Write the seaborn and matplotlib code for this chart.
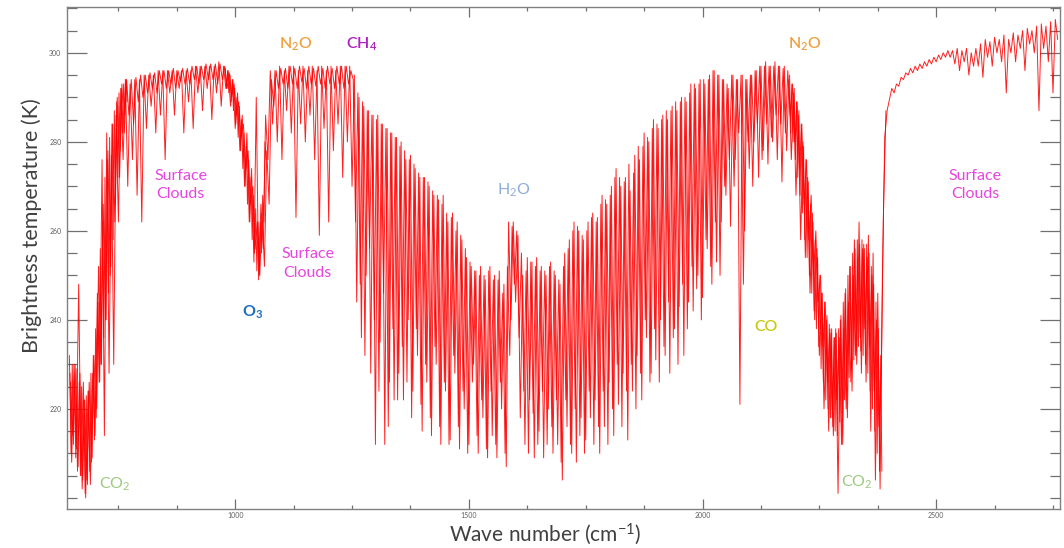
import numpy as np
import matplotlib
matplotlib.use("Agg")
import matplotlib.pyplot as plt
from matplotlib.ticker import MultipleLocator
import seaborn as sns

# brightness temperature (K), one value every 5 cm-1 from 645 cm-1
bt_values = [
    232, 208, 230, 211, 248, 205, 226, 200, 224, 203, 228, 214, 246, 226, 276, 214, 282, 228, 277, 230,
    286, 262, 292, 276, 294, 270, 293, 276, 294, 268, 294, 262, 295, 283, 295, 288, 295, 282, 296, 286,
    296, 276, 296, 291, 296, 286, 296, 292, 296, 282, 296, 289, 296, 283, 297, 291, 297, 287, 297, 292,
    297, 285, 297, 291, 298, 288, 297, 292, 296, 288, 294, 283, 291, 278, 286, 270, 282, 262, 274, 253,
    290, 249, 266, 256, 286, 276, 296, 284, 296, 280, 297, 276, 296, 287, 297, 282, 297, 263, 296, 284,
    297, 280, 296, 286, 297, 276, 296, 259, 297, 283, 296, 262, 297, 278, 296, 284, 297, 272, 297, 280,
    297, 270, 295, 244, 290, 236, 288, 250, 287, 228, 286, 212, 286, 235, 284, 212, 283, 226, 282, 222,
    281, 228, 280, 222, 276, 240, 277, 224, 274, 232, 272, 215, 272, 226, 270, 214, 268, 230, 267, 212,
    268, 224, 262, 213, 264, 228, 262, 211, 258, 220, 254, 212, 252, 230, 251, 210, 252, 218, 249, 209,
    252, 214, 250, 209, 251, 220, 248, 207, 262, 240, 262, 244, 259, 218, 250, 212, 254, 222, 253, 209,
    254, 215, 252, 209, 250, 220, 253, 210, 250, 212, 248, 204, 255, 216, 258, 210, 262, 208, 260, 218,
    258, 213, 262, 218, 264, 222, 263, 210, 268, 216, 266, 226, 270, 214, 274, 221, 270, 228, 272, 213,
    269, 224, 277, 232, 276, 222, 282, 236, 280, 228, 285, 231, 283, 240, 286, 232, 285, 228, 288, 238,
    287, 243, 290, 232, 289, 244, 293, 242, 292, 250, 294, 245, 293, 256, 295, 248, 296, 253, 295, 262,
    294, 268, 292, 261, 295, 276, 294, 221, 295, 260, 294, 274, 295, 280, 296, 272, 297, 278, 298, 275,
    297, 280, 298, 276, 297, 271, 297, 278, 294, 276, 291, 268, 286, 258, 280, 254, 272, 246, 264, 240,
    256, 232, 246, 220, 240, 215, 237, 214, 238, 201, 240, 212, 246, 218, 252, 224, 258, 230, 262, 228,
    257, 226, 259, 215, 255, 204, 246, 202, 250, 281, 287, 289.5, 292, 291, 293, 292.5, 294.5, 294, 295.5, 295,
    296.5, 295.5, 297, 296, 297.5, 296.5, 298, 297, 298.5, 297.5, 299, 298, 299.5, 298.5, 300, 299, 300.5, 299, 300.5, 297.5,
    301, 296, 300.5, 298, 301, 295, 300, 297, 301, 297, 302, 294.5, 303, 299, 302.5, 297, 303.5, 300, 303, 298,
    304, 291, 303, 300, 304.5, 298, 304, 301, 305, 296, 305.5, 302, 305, 300, 306, 287, 306.5, 301, 306, 298,
    307, 291, 307.5, 303,
]
wave_numbers = np.arange(645, 2761, 5)

# the lines in between, every 5 cm-1 from 647.5 cm-1
bt_between = [
    226, 214, 230, 206, 228, 202, 222, 204, 226, 208, 232, 218, 252, 230, 266, 240, 278, 250, 284, 262,
    290, 272, 293, 282, 294, 286, 294, 284, 294.5, 289, 295, 290, 295, 291, 295.5, 292, 295.5, 291, 296, 293,
    296, 292, 296, 293, 296.5, 292, 296, 293.5, 296.5, 293, 296.5, 293, 297, 294, 297, 293, 297, 294, 297.5, 294,
    297.5, 294, 297.5, 293, 297.5, 294, 297, 292, 295.5, 290, 293, 286, 289, 281, 284, 274, 278, 266, 270, 256,
    262, 250, 264, 252, 278, 266, 294, 288, 296, 292, 296.5, 293, 296.5, 292, 297, 293, 296.5, 292, 297, 293.5,
    296.5, 292, 297, 293, 296.5, 292.5, 297, 293, 296.5, 292, 297, 293, 296.5, 292, 297, 293, 297, 292, 297, 293, 296,
    294, 262, 291, 248, 289, 232, 287, 256, 286, 240, 285, 224, 284, 246, 283, 216, 282, 238, 281, 222,
    279, 234, 278, 226, 276, 218, 275, 238, 273, 221, 272, 230, 271, 218, 269, 234, 268, 216, 266, 226,
    264, 212, 263, 232, 260, 216, 259, 224, 256, 210, 253, 226, 251, 214, 250, 222, 250, 211, 251, 224,
    249, 212, 249, 226, 246, 210, 252, 232, 261, 248, 260, 236, 255, 224, 251, 210, 253, 219, 252, 212,
    251, 224, 251, 212, 252, 216, 251, 222, 249, 208, 252, 222, 256, 212, 260, 220, 261, 214, 259, 210,
    260, 224, 263, 212, 262, 216, 266, 224, 267, 212, 268, 220, 272, 230, 272, 216, 271, 224, 275, 230,
    273, 220, 279, 228, 279, 240, 281, 226, 283, 238, 284, 226, 285, 234, 287, 244, 287, 236, 289, 230,
    289, 248, 290, 238, 291, 252, 293, 247, 293, 240, 294, 258, 294, 252, 296, 262, 295, 250, 294, 270,
    293, 276, 295, 270, 294, 282, 295, 248, 294, 280, 295, 270, 296, 284, 297, 276, 297, 284, 297, 281,
    297, 286, 297, 284, 296.5, 282, 296, 286, 293, 280, 289, 274, 284, 266, 276, 258, 268, 250, 260, 244,
    250, 234, 244, 226, 238, 218, 236, 222, 236, 212, 238, 220, 244, 226, 250, 232, 254, 236, 256, 238,
    254, 234, 250, 224, 240, 216, 228, 266, 287,
]
between_wave_numbers = np.arange(647.5, 2395, 5)

# extra lines in the saturated CO2 and O3 bands, every 2.5 cm-1
bt_dense_co2_left = [
    228, 210, 230, 212, 226, 209, 229, 207, 226, 205, 225, 204, 222, 201, 223, 203, 224, 206, 228, 209,
    232, 213, 238, 220, 244, 226, 256, 230, 262, 236, 272, 240, 276, 246, 281, 252, 284, 258, 287, 266,
    289, 272, 291, 278, 292, 282, 293, 286, 294, 289,
]
dense_co2_left_wn = np.arange(646.25, 770, 2.5)

bt_dense_o3 = [
    296.5, 292, 296, 291, 295, 289, 294, 287, 292, 284, 290, 281, 288, 278, 285, 274, 282, 270,
    279, 266, 276, 262, 272, 258, 268, 255, 265, 251, 262, 250, 262, 255, 268, 262, 280, 276,
]
dense_o3_wn = np.arange(978.75, 1067, 2.5)

bt_dense_co2_right = [
    295, 282, 293, 280, 292, 276, 289, 272, 287, 268, 284, 264, 279, 258, 276, 254, 271, 250, 266, 246,
    262, 242, 258, 238, 254, 234, 250, 229, 246, 226, 244, 222, 241, 220, 239, 218, 238, 216, 236, 215,
    237, 214, 238, 217, 241, 219, 244, 222, 247, 224, 250, 227, 252, 229, 255, 231, 256, 233, 258, 234,
    257, 233, 258, 232, 256, 230, 257, 228, 255, 224, 252, 220, 248, 215, 244, 210, 238, 206, 232, 206,
]
dense_co2_right_wn = np.arange(2186.25, 2385, 2.5)

# label text, anchor (wave number, K), colour, weight
labels = ["N$_\\mathregular{2}$O", "CH$_\\mathregular{4}$", "Surface\nClouds", "Surface\nClouds",
          "O$_\\mathregular{3}$", "H$_\\mathregular{2}$O", "N$_\\mathregular{2}$O", "CO",
          "CO$_\\mathregular{2}$", "CO$_\\mathregular{2}$", "Surface\nClouds"]
label_x = [1129, 1270, 883, 1155, 1037, 1595, 2218, 2136, 742, 2330, 2584]
label_y = [302, 302, 270.3, 252.6, 241.8, 269.1, 302, 238.4, 203, 203.4, 270.3]
label_colors = ["#F0A040", "#B020C0", "#E845E0", "#E845E0", "#1F6FBF", "#8FAADC",
                "#F0A040", "#C8C814", "#9DCB7F", "#9DCB7F", "#E845E0"]
label_weights = ["semibold", "semibold", "normal", "normal", "bold", "normal",
                 "semibold", "semibold", "normal", "normal", "normal"]

sns.set_theme(style="ticks")
plt.rcParams["font.family"] = ["Lato", "DejaVu Sans"]
plt.rcParams["mathtext.default"] = "regular"

fig = plt.figure(figsize=(10.64, 5.48), dpi=100)
ax = fig.add_axes([67 / 1064, 39 / 548, 993 / 1064, 502 / 548])

series = [
    (dense_co2_left_wn, bt_dense_co2_left),
    (dense_o3_wn, bt_dense_o3),
    (dense_co2_right_wn, bt_dense_co2_right),
    (between_wave_numbers, bt_between),
    (wave_numbers, bt_values),
]
for wn, bt in series:
    sns.lineplot(x=wn, y=bt, color="red", linewidth=0.7, alpha=0.88, ax=ax)

for txt, x, y, c, w in zip(labels, label_x, label_y, label_colors, label_weights):
    ax.text(x, y, txt, color=c, fontsize=11.5, fontweight=w, ha="center", va="center",
            linespacing=1.45)

ax.set_xlim(640, 2765)
ax.set_ylim(197.5, 310.3)
ax.xaxis.set_major_locator(MultipleLocator(500))
ax.xaxis.set_minor_locator(MultipleLocator(125))
ax.yaxis.set_minor_locator(MultipleLocator(5))
ax.set_yticks([220, 240, 260, 280, 300])

ax.tick_params(which="both", direction="in", top=True, right=True, colors="#707070",
               labelsize=5, labelcolor="#606060", width=0.9)
ax.tick_params(axis="y", which="major", length=14.5, pad=4)
ax.tick_params(axis="y", which="minor", length=7.5)
ax.tick_params(axis="x", which="major", length=7, pad=2.5)
ax.tick_params(axis="x", which="minor", length=3)
for s in ax.spines.values():
    s.set_color("#808080")
    s.set_linewidth(1.0)

ax.set_xlabel("Wave number (cm$^{-1}$)", fontsize=15, color="#404040")
ax.set_ylabel("Brightness temperature (K)", fontsize=15.5, color="#404040")
ax.xaxis.set_label_coords(0.482, -0.024)
ax.yaxis.set_label_coords(-0.025, 0.564)

fig.savefig("out.png", dpi=100, facecolor="white")
